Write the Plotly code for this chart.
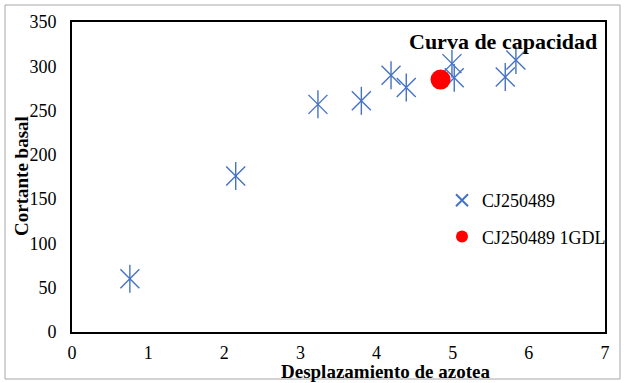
import plotly.graph_objects as go

desp = [0.76, 2.15, 3.23, 3.80, 4.19, 4.39, 4.99, 5.02, 5.69, 5.83]
cortante = [60, 176, 257, 261, 290, 276, 303, 287, 288, 307]
desp_1gdl = [4.84]
cortante_1gdl = [285]

x_ticks = [0, 1, 2, 3, 4, 5, 6, 7]
y_ticks = [0, 50, 100, 150, 200, 250, 300, 350]

FONT = "Liberation Serif"
BLUE = "#4472C4"

fig = go.Figure()
# six-armed star: an "x" plus a vertical stroke on the same points
fig.add_trace(go.Scatter(
    x=desp, y=cortante, mode="markers", name="CJ250489", legendgroup="a",
    marker=dict(symbol="x-thin-open", size=19, color=BLUE,
                line=dict(width=1.4, color=BLUE)),
))
fig.add_trace(go.Scatter(
    x=desp, y=cortante, mode="markers", name="CJ250489", legendgroup="a",
    showlegend=False, hoverinfo="skip",
    marker=dict(symbol="line-ns-open", size=20, color=BLUE,
                line=dict(width=1.4, color=BLUE)),
))
fig.add_trace(go.Scatter(
    x=desp_1gdl, y=cortante_1gdl, mode="markers", name="CJ250489 1GDL", legendgroup="b",
    marker=dict(symbol="circle", size=20, color="#FF0000"),
))

L, R, T, B = 72, 21, 22, 51
W, H = 626, 383
pw, ph = W - L - R, H - T - B

def px(x):
    return (x - L) / pw

def py(y):
    return (H - B - y) / ph

fig.update_layout(
    width=W, height=H,
    margin=dict(l=L, r=R, t=T, b=B),
    paper_bgcolor="white", plot_bgcolor="white",
    font=dict(family=FONT, size=18, color="black"),
    showlegend=True,
    legend=dict(x=px(442), y=py(182), xanchor="left", yanchor="top",
                bgcolor="rgba(0,0,0,0)", font=dict(family=FONT, size=18),
                tracegroupgap=10, itemwidth=30, itemsizing="constant"),
    xaxis=dict(range=[0, 7], tickvals=x_ticks, showgrid=False, zeroline=False,
               showline=True, linecolor="black", linewidth=2, mirror=True,
               ticks="", ticklabelstandoff=3, tickfont=dict(family=FONT, size=18)),
    yaxis=dict(range=[0, 350], tickvals=y_ticks, showgrid=False, zeroline=False,
               showline=True, linecolor="black", linewidth=2, mirror=True,
               ticks="", ticklabelstandoff=10, tickfont=dict(family=FONT, size=18)),
    annotations=[
        dict(text="<b>Curva de capacidad</b>", xref="paper", yref="paper",
             x=px(599), y=py(41), xanchor="right", yanchor="middle",
             showarrow=False, font=dict(family=FONT, size=22)),
        dict(text="<b>Desplazamiento de azotea</b>", xref="paper", yref="paper",
             x=px(385), y=py(372), xanchor="center", yanchor="middle",
             showarrow=False, font=dict(family=FONT, size=19)),
        dict(text="<b>Cortante basal</b>", xref="paper", yref="paper",
             x=px(21), y=py(176), xanchor="center", yanchor="middle", textangle=-90,
             showarrow=False, font=dict(family=FONT, size=19)),
    ],
    shapes=[
        dict(type="rect", xref="paper", yref="paper",
             x0=px(5), x1=px(620), y0=py(379), y1=py(5),
             line=dict(color="#A6A6A6", width=1)),
    ],
)

fig.write_html("out.html", config={"displayModeBar": False},
               post_script="document.body.style.margin='0';document.body.style.overflow='hidden';")
